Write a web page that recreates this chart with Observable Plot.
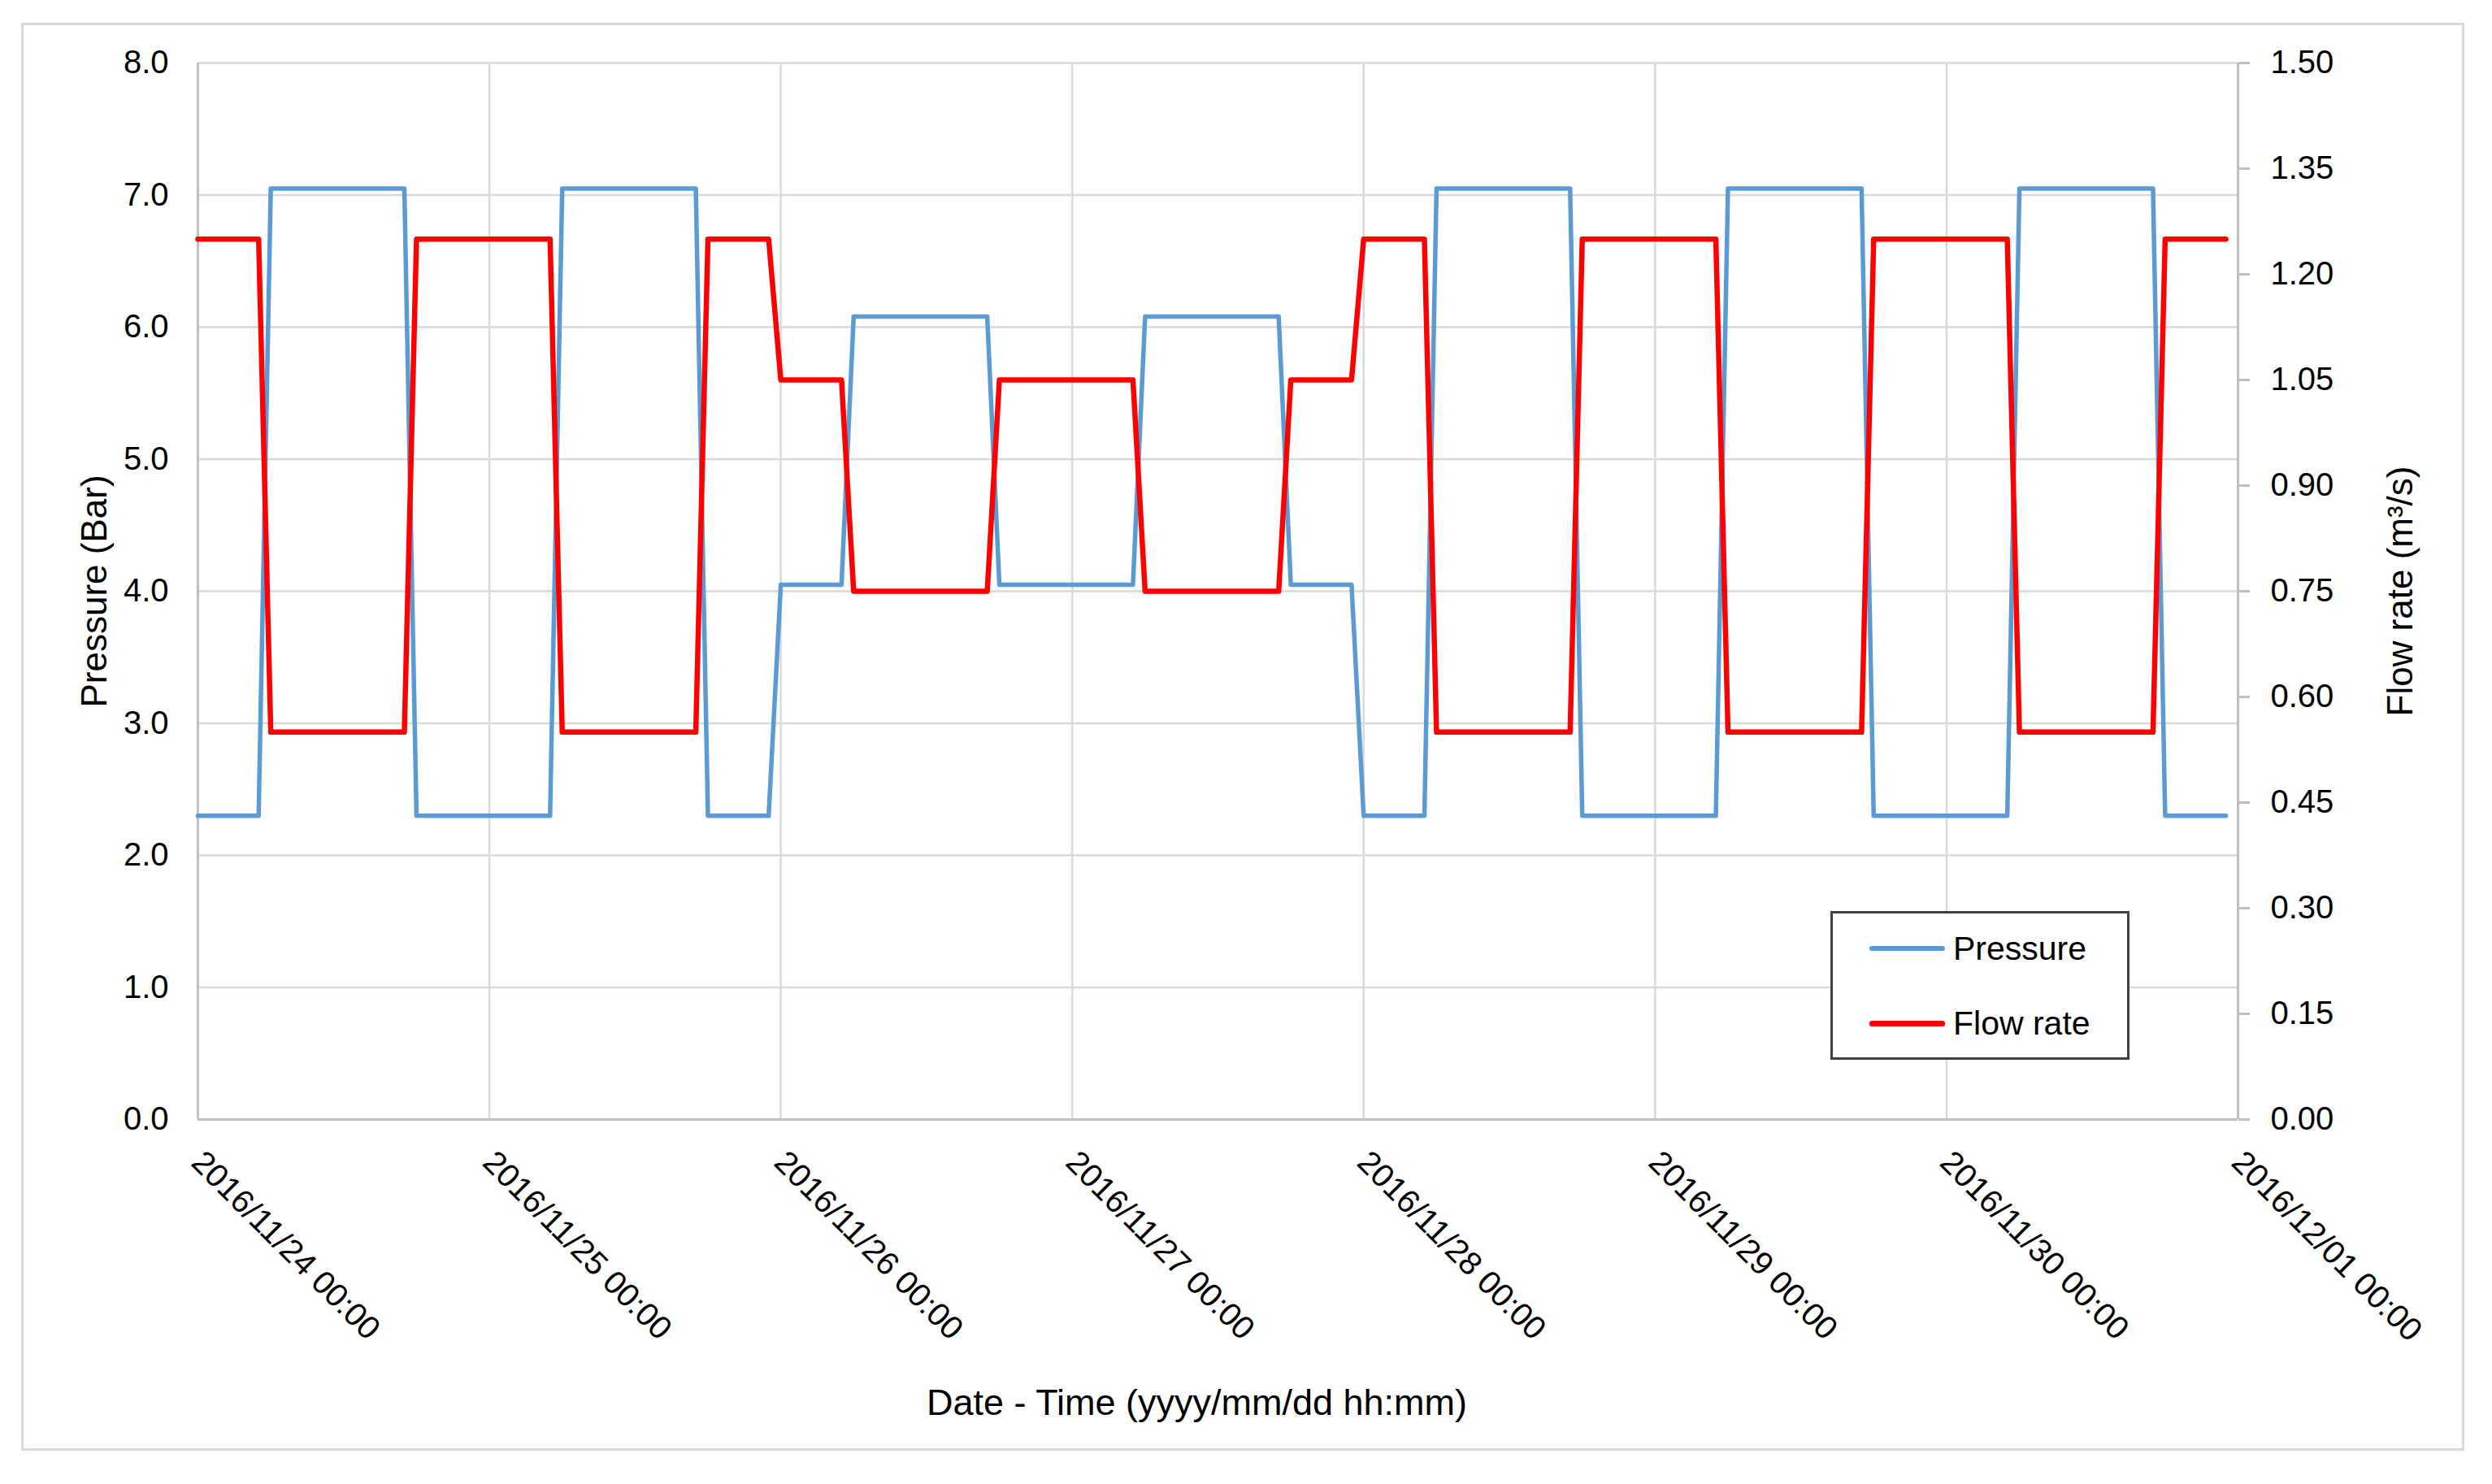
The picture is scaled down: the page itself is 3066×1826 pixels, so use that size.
<!DOCTYPE html>
<html>
<head>
<meta charset="utf-8">
<script src="https://cdn.jsdelivr.net/npm/d3@7"></script>
<script src="https://cdn.jsdelivr.net/npm/@observablehq/plot@0.6"></script>
<style>
  html, body { margin: 0; padding: 0; background: #fff; }
  #wrap { position: relative; width: 3066px; height: 1826px; font-family: "Liberation Sans", Arial, sans-serif; }
  #frame { position: absolute; left: 26px; top: 28px; width: 3006px; height: 1757px; border: 3px solid #d9d9d9; box-sizing: border-box; pointer-events: none; }
  #legend { position: absolute; left: 2252px; top: 1121px; width: 368px; height: 183px; border: 3px solid #404040; box-sizing: border-box; background: #fff; }
  #legend .row { position: absolute; left: 0; height: 0; }
  #legend .sw { position: absolute; left: 45px; width: 93px; height: 0; }
  #legend .lbl { position: absolute; left: 148px; top: -24px; font-size: 41px; line-height: 48px; color: #000; white-space: nowrap; }
</style>
</head>
<body>
<div id="wrap">
  <div id="chart"></div>
  <div id="frame"></div>
  <div id="legend"></div>
</div>
<script>
// ---- data ----
// hour offsets from 2016/11/24 00:00 at which each series changes slope
const hours = [0,5,6,17,18,29,30,41,42,47,48,53,54,65,66,77,78,89,90,95,96,101,102,113,114,125,126,137,138,149,150,161,162,167];
// Pressure (Bar)
const pressure = [2.3,2.3,7.05,7.05,2.3,2.3,7.05,7.05,2.3,2.3,4.05,4.05,6.08,6.08,4.05,4.05,6.08,6.08,4.05,4.05,2.3,2.3,7.05,7.05,2.3,2.3,7.05,7.05,2.3,2.3,7.05,7.05,2.3,2.3];
// Flow rate (m³/s)
const flow = [1.25,1.25,0.55,0.55,1.25,1.25,0.55,0.55,1.25,1.25,1.05,1.05,0.75,0.75,1.05,1.05,0.75,0.75,1.05,1.05,1.25,1.25,0.55,0.55,1.25,1.25,0.55,0.55,1.25,1.25,0.55,0.55,1.25,1.25];

const pressureTicks = [0,1,2,3,4,5,6,7,8];
const flowTicks = [0,0.15,0.30,0.45,0.60,0.75,0.90,1.05,1.20,1.35,1.50];
const dayTickDates = ["2016-11-24","2016-11-25","2016-11-26","2016-11-27","2016-11-28","2016-11-29","2016-11-30","2016-12-01"];
const dayTickLabels = ["2016/11/24 00:00","2016/11/25 00:00","2016/11/26 00:00","2016/11/27 00:00","2016/11/28 00:00","2016/11/29 00:00","2016/11/30 00:00","2016/12/01 00:00"];

const seriesNames = ["Pressure", "Flow rate"];
const seriesColors = ["#5b9bd5", "#ff0000"];
const yTitle = "Pressure (Bar)";
const y2Title = "Flow rate (m³/s)";
const xTitle = "Date - Time (yyyy/mm/dd hh:mm)";

// ---- build tables ----
const t0 = new Date(dayTickDates[0] + "T00:00:00Z").getTime();
const rows = hours.map((h, i) => ({time: new Date(t0 + h * 3600e3), p: pressure[i], f: flow[i]}));
const days = dayTickDates.map((d, i) => ({date: new Date(d + "T00:00:00Z"), label: dayTickLabels[i]}));
const yMax = pressureTicks[pressureTicks.length - 1];
const fMax = flowTicks[flowTicks.length - 1];
const ratio = yMax / fMax; // map flow to the pressure scale

const axisGray = "#bfbfbf";
const gridGray = "#d9d9d9";

const chart = Plot.plot({
  width: 3066,
  height: 1826,
  marginLeft: 243,
  marginRight: 313,
  marginTop: 77,
  marginBottom: 449,
  style: {fontFamily: "'Liberation Sans', Arial, sans-serif", fontSize: "40px", color: "#000", background: "transparent"},
  x: {type: "utc", domain: [days[0].date, days[days.length - 1].date], axis: null},
  y: {domain: [0, yMax], axis: null},
  marks: [
    Plot.gridY(pressureTicks, {stroke: gridGray, strokeOpacity: 1, strokeWidth: 2.5}),
    Plot.gridX(days.map(d => d.date), {stroke: gridGray, strokeOpacity: 1, strokeWidth: 2.5}),
    Plot.ruleX([days[0].date], {stroke: axisGray, strokeWidth: 3}),
    Plot.ruleX([days[days.length - 1].date], {stroke: axisGray, strokeWidth: 3}),
    Plot.ruleY([0], {stroke: axisGray, strokeWidth: 3}),
    Plot.axisY(pressureTicks, {anchor: "left", tickSize: 0, tickPadding: 36, tickFormat: d => d.toFixed(1), label: null, fontSize: 40}),
    Plot.axisY(flowTicks.map(f => f * ratio), {anchor: "right", tickSize: 14, tickPadding: 26, stroke: axisGray, strokeWidth: 3, tickFormat: d => (d / ratio).toFixed(2), label: null, fontSize: 40}),
    Plot.line(rows, {x: "time", y: "p", stroke: seriesColors[0], strokeWidth: 5.5, strokeLinejoin: "round", strokeLinecap: "round"}),
    Plot.line(rows, {x: "time", y: d => d.f * ratio, stroke: seriesColors[1], strokeWidth: 6.5, strokeLinejoin: "round", strokeLinecap: "round"}),
    Plot.text(days, {x: "date", y: () => 0, text: "label", rotate: 45, textAnchor: "start", lineAnchor: "middle", dx: -1, dy: 46, fontSize: 40, fill: "#000"}),
    Plot.text([yTitle], {frameAnchor: "left", text: d => d, rotate: -90, dx: -127, fontSize: 44, fill: "#000", textAnchor: "middle", lineAnchor: "middle"}),
    Plot.text([y2Title], {frameAnchor: "right", text: d => d, rotate: -90, dx: 200, fontSize: 44, fill: "#000", textAnchor: "middle", lineAnchor: "middle"}),
    Plot.text([xTitle], {frameAnchor: "bottom", text: d => d, dx: -26, dy: 349, fontSize: 45, fill: "#000", textAnchor: "middle", lineAnchor: "middle"})
  ]
});
document.getElementById("chart").appendChild(chart);

// ---- legend ----
const legend = document.getElementById("legend");
const rowTops = [46, 138];
seriesNames.forEach((name, i) => {
  const row = document.createElement("div");
  row.className = "row";
  row.style.top = (rowTops[i] - 3) + "px";
  const sw = document.createElement("div");
  sw.className = "sw";
  sw.style.borderTop = (i === 0 ? 6 : 7) + "px solid " + seriesColors[i];
  sw.style.top = (i === 0 ? -3 : -3.5) + "px";
  sw.style.borderRadius = "3px";
  const lbl = document.createElement("div");
  lbl.className = "lbl";
  lbl.textContent = name;
  row.appendChild(sw);
  row.appendChild(lbl);
  legend.appendChild(row);
});
</script>
</body>
</html>
